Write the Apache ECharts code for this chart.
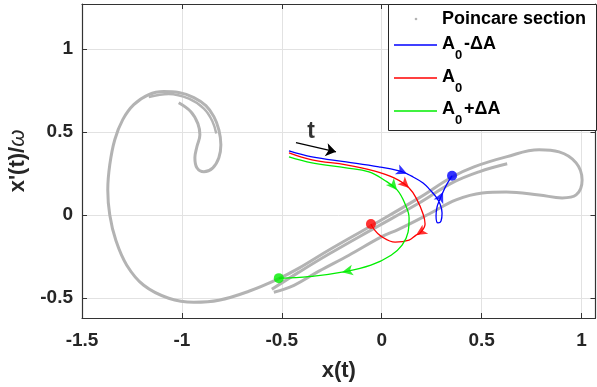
<!DOCTYPE html>
<html>
<head>
<meta charset="utf-8">
<script src="https://cdn.jsdelivr.net/npm/echarts@6/dist/echarts.min.js"></script>
<style>
html, body { margin: 0; padding: 0; background: #fff; }
#chart { width: 597px; height: 387px; }
</style>
</head>
<body>
<div id="chart"></div>
<script>
// axis ticks
const xTicks = [-1.5, -1, -0.5, 0, 0.5, 1]
const yTicks = [-0.5, 0, 0.5, 1]

// poincare section, traced as strands (x, x'/w)
const sectionMain = [
  [-1.016, 0.676], [-0.955, 0.622], [-0.920, 0.550], [-0.910, 0.483], [-0.925, 0.411], [-0.935, 0.344],
  [-0.925, 0.284], [-0.890, 0.260], [-0.845, 0.284], [-0.815, 0.344], [-0.805, 0.423], [-0.815, 0.513],
  [-0.840, 0.592], [-0.880, 0.658], [-0.940, 0.707], [-1.016, 0.737], [-1.091, 0.743], [-1.166, 0.725],
  [-1.241, 0.664], [-1.296, 0.574], [-1.336, 0.453], [-1.361, 0.302], [-1.371, 0.151], [-1.361, 0],
  [-1.331, -0.151], [-1.276, -0.302], [-1.191, -0.423], [-1.066, -0.501], [-0.940, -0.525], [-0.815, -0.513],
  [-0.665, -0.459], [-0.520, -0.386], [-0.414, -0.320], [-0.264, -0.211], [-0.054, -0.066], [0.187, 0.103],
  [0.352, 0.229], [0.462, 0.290], [0.623, 0.350], [0.788, 0.393], [0.888, 0.380], [0.973, 0.314],
  [1.003, 0.211], [0.973, 0.121], [0.903, 0.103], [0.788, 0.121], [0.623, 0.139], [0.503, 0.133],
  [0.372, 0.091], [0.237, 0.006], [0.087, -0.085], [-0.004, -0.133], [-0.164, -0.242], [-0.314, -0.338],
  [-0.439, -0.423], [-0.540, -0.465]
]
const sectionInner = [
  [-0.550, -0.447], [-0.414, -0.344], [-0.264, -0.235], [-0.054, -0.091], [0.187, 0.072],
  [0.352, 0.193], [0.487, 0.260], [0.628, 0.308]
]
const sectionHook = [
  [-1.166, 0.710], [-1.066, 0.728], [-0.965, 0.700], [-0.890, 0.640], [-0.848, 0.566], [-0.828, 0.490]
]

// trajectories for A0-dA, A0, A0+dA
const trajMinus = [
  [-0.464, 0.386], [-0.349, 0.350], [-0.178, 0.320], [-0.014, 0.290], [0.087, 0.266], [0.127, 0.248],
  [0.157, 0.229], [0.207, 0.193], [0.242, 0.151], [0.272, 0.109], [0.292, 0.066], [0.302, 0.012],
  [0.297, -0.036], [0.282, -0.048], [0.272, -0.006], [0.277, 0.048], [0.292, 0.097], [0.307, 0.139],
  [0.327, 0.187], [0.352, 0.236]
]
const trajMid = [
  [-0.464, 0.374], [-0.349, 0.332], [-0.178, 0.302], [-0.039, 0.266], [0.062, 0.223], [0.137, 0.163],
  [0.177, 0.091], [0.207, 0.006], [0.217, -0.054], [0.192, -0.109], [0.172, -0.121], [0.137, -0.151],
  [0.067, -0.163], [-0.004, -0.127], [-0.039, -0.085], [-0.054, -0.054]
]
const trajPlus = [
  [-0.464, 0.350], [-0.349, 0.314], [-0.178, 0.284], [-0.064, 0.260], [0.012, 0.211], [0.077, 0.151],
  [0.117, 0.066], [0.137, -0.018], [0.132, -0.103], [0.102, -0.181], [0.047, -0.242], [-0.054, -0.302],
  [-0.199, -0.344], [-0.339, -0.368], [-0.489, -0.380], [-0.515, -0.380]
]
// where the arrowheads sit (index into the trajectory)
const arrowsMinus = [5, 17]
const arrowsMid = [5, 10]
const arrowsPlus = [5, 12]

// time arrow annotation
const timeArrow = [[-0.429, 0.435], [-0.229, 0.380]]
const timeLabel = [-0.354, 0.501]

const BLUE = '#0000ff'
const RED = '#ff0000'
const GREEN = '#00ee00'
const GRAY = '#b3b3b3'
const FONT = 'Liberation Sans, Arial, sans-serif'

const chart = echarts.init(document.getElementById('chart'), null, { renderer: 'canvas' })

function grayLine(data, width) {
  return {
    type: 'line', data: data, smooth: 0.4, symbol: 'none', silent: true,
    lineStyle: { color: GRAY, width: width }, z: 1
  }
}
function trajLine(data, color) {
  return {
    type: 'line', data: data, smooth: 0.4, symbol: 'none', silent: true,
    lineStyle: { color: color, width: 1.3 }, z: 3
  }
}
function endDot(data, color) {
  return {
    type: 'scatter', data: [data[data.length - 1]], symbol: 'circle', symbolSize: 10,
    itemStyle: { color: color }, silent: true, z: 5
  }
}

const axisColor = '#333'
const labelStyle = { fontWeight: 'bold', fontSize: 19, color: '#262626', fontFamily: FONT }

// legend drawn by hand (MATLAB style box with subscripts)
function legendText(x, y, text, size) {
  return { type: 'text', x: x, y: y, style: { text: text, font: 'bold ' + size + 'px ' + FONT, fill: '#000', verticalAlign: 'middle' } }
}
function legendLine(y, color) {
  return { type: 'line', shape: { x1: 394, y1: y, x2: 437, y2: y }, style: { stroke: color, lineWidth: 1.3 } }
}

chart.setOption({
  animation: false,
  grid: { left: 82, right: 1.5, top: 4, bottom: 69, containLabel: false, outerBoundsMode: 'none' },
  xAxis: [{
    type: 'value', min: -1.5, max: 1.07, position: 'bottom',
    axisLine: { show: true, onZero: false, lineStyle: { color: axisColor, width: 1.2 } },
    axisTick: { show: true, inside: true, length: 5, customValues: xTicks, lineStyle: { color: axisColor } },
    axisLabel: Object.assign({ customValues: xTicks, margin: 13 }, labelStyle),
    splitLine: { show: true, lineStyle: { color: '#e2e2e2' } },
    name: 'x(t)', nameLocation: 'middle', nameGap: 42,
    nameTextStyle: { fontWeight: 'bold', fontSize: 22, color: '#262626', fontFamily: FONT }
  }, {
    type: 'value', min: -1.5, max: 1.07, position: 'top',
    axisLine: { show: true, onZero: false, lineStyle: { color: axisColor, width: 1.2 } },
    axisTick: { show: true, inside: true, length: 5, customValues: xTicks, lineStyle: { color: axisColor } },
    axisLabel: { show: false }, splitLine: { show: false }
  }],
  yAxis: [{
    type: 'value', min: -0.62, max: 1.27, position: 'left',
    axisLine: { show: true, onZero: false, lineStyle: { color: axisColor, width: 1.2 } },
    axisTick: { show: true, inside: true, length: 5, customValues: yTicks, lineStyle: { color: axisColor } },
    axisLabel: Object.assign({ customValues: yTicks, margin: 9 }, labelStyle),
    splitLine: { show: true, lineStyle: { color: '#e2e2e2' } },
    name: "{a|x'(t)/}{w|ω}", nameLocation: 'middle', nameGap: 51, nameRotate: 90,
    nameTextStyle: {
      fontFamily: FONT,
      rich: {
        a: { fontWeight: 'bold', fontSize: 22, color: '#262626', fontFamily: FONT },
        w: { fontStyle: 'italic', fontSize: 22, color: '#262626', fontFamily: FONT }
      }
    }
  }, {
    type: 'value', min: -0.62, max: 1.27, position: 'right',
    axisLine: { show: true, onZero: false, lineStyle: { color: axisColor, width: 1.2 } },
    axisTick: { show: true, inside: true, length: 5, customValues: yTicks, lineStyle: { color: axisColor } },
    axisLabel: { show: false }, splitLine: { show: false }
  }],
  series: [
    grayLine(sectionMain, 3),
    grayLine(sectionInner, 3),
    grayLine(sectionHook, 2.5),
    trajLine(trajMinus, BLUE),
    trajLine(trajMid, RED),
    trajLine(trajPlus, GREEN),
    endDot(trajMinus, BLUE),
    endDot(trajMid, RED),
    endDot(trajPlus, GREEN),
    {
      type: 'lines', coordinateSystem: 'cartesian2d', silent: true, z: 6,
      symbol: ['none', 'arrow'], symbolSize: 10,
      lineStyle: { color: '#000', width: 1.3, opacity: 1 },
      data: [{ coords: timeArrow }]
    },
    {
      type: 'scatter', data: [timeLabel], symbolSize: 0, silent: true, z: 6,
      label: { show: true, position: 'inside', formatter: 't', fontWeight: 'bold', fontSize: 23, color: '#000', fontFamily: FONT }
    }
  ],
  graphic: [
    { type: 'rect', z: 100, shape: { x: 388.5, y: 4.5, width: 208, height: 126 }, style: { fill: '#fff', stroke: '#262626', lineWidth: 1 } },
    { type: 'circle', z: 101, shape: { cx: 416, cy: 19, r: 1.3 }, style: { fill: GRAY } },
    Object.assign(legendText(442, 19, 'Poincare section', 18), { z: 101 }),
    Object.assign(legendLine(45, BLUE), { z: 101 }),
    Object.assign(legendText(442, 44, 'A', 18), { z: 101 }),
    Object.assign(legendText(455, 55, '0', 13), { z: 101 }),
    Object.assign(legendText(464, 44, '-ΔA', 18), { z: 101 }),
    Object.assign(legendLine(78, RED), { z: 101 }),
    Object.assign(legendText(442, 77, 'A', 18), { z: 101 }),
    Object.assign(legendText(455, 88, '0', 13), { z: 101 }),
    Object.assign(legendLine(111, GREEN), { z: 101 }),
    Object.assign(legendText(442, 109, 'A', 18), { z: 101 }),
    Object.assign(legendText(455, 120, '0', 13), { z: 101 }),
    Object.assign(legendText(464, 109, '+ΔA', 18), { z: 101 })
  ]
})

// arrowheads along the trajectories, rotated to the local direction
function arrowsFor(traj, idx) {
  return idx.map(i => {
    const a = chart.convertToPixel({ gridIndex: 0 }, traj[i - 1])
    const b = chart.convertToPixel({ gridIndex: 0 }, traj[i + 1])
    const ang = Math.atan2(-(b[1] - a[1]), b[0] - a[0]) * 180 / Math.PI
    return { value: traj[i], symbolRotate: ang - 90 }
  })
}
function arrowSeries(traj, idx, color) {
  return {
    type: 'scatter', data: arrowsFor(traj, idx), symbol: 'arrow', symbolSize: [8, 11],
    itemStyle: { color: color }, silent: true, z: 4
  }
}
const opt = chart.getOption()
chart.setOption({
  series: opt.series.concat([
    arrowSeries(trajMinus, arrowsMinus, BLUE),
    arrowSeries(trajMid, arrowsMid, RED),
    arrowSeries(trajPlus, arrowsPlus, GREEN)
  ])
})
</script>
</body>
</html>
